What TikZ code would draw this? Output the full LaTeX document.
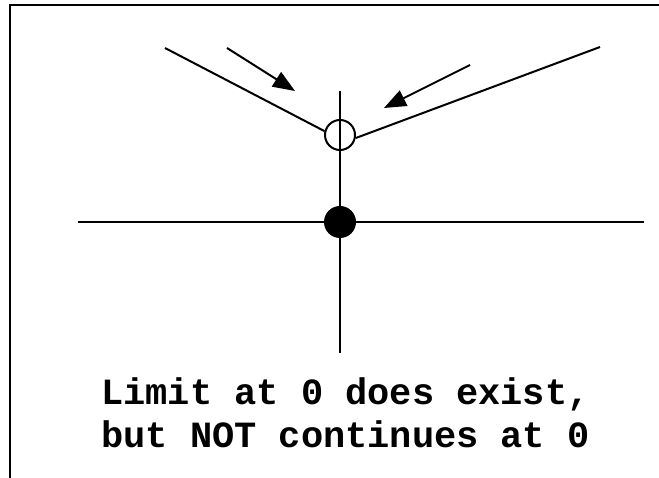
\documentclass[tikz,border=0pt]{standalone}
\usepackage{fontspec}
\setmonofont{Liberation Mono}
\usetikzlibrary{arrows.meta}
\begin{document}
\begin{tikzpicture}[x=1pt,y=-1pt,
  ln/.style={line width=2pt},
  arr/.style={line width=2pt,-{Triangle[length=22pt,width=17pt]}},
  opendot/.style={circle,draw,line width=2pt,minimum size=30pt,inner sep=0pt},
  filldot/.style={circle,fill=black,minimum size=32pt,inner sep=0pt},
  lbl/.style={anchor=base west,inner sep=0pt,font=\ttfamily\bfseries\fontsize{37}{42}\selectfont}]
\useasboundingbox (0,0) rectangle (659,478);
% frame (only top and left visible)
\coordinate (fbl) at (10,480);
\coordinate (ftl) at (10,5.2);
\coordinate (ftr) at (662,5.2);
\draw[line width=2.4pt] (fbl) -- (ftl) -- (ftr);
% axes
\coordinate (xl) at (78,222);
\coordinate (xr) at (644,222);
\coordinate (yt) at (340,91);
\coordinate (yb) at (340,353);
\draw[ln] (xl) -- (xr);
\draw[ln] (yt) -- (yb);
% points
\node[opendot] (open) at (340,135) {};
\node[filldot] (full) at (340,222) {};
% branches
\coordinate (bl) at (165,48);
\coordinate (br) at (600,47);
\draw[ln] (bl) -- (open.166);
\draw[ln] (br) -- (open.-11);
% arrows
\coordinate (a1s) at (227,48);
\coordinate (a1e) at (295,91);
\coordinate (a2s) at (470,65);
\coordinate (a2e) at (384,108);
\draw[arr] (a1s) -- (a1e);
\draw[arr] (a2s) -- (a2e);
% labels
\node[lbl] (t1) at (101,405) {Limit at 0 does exist,};
\node[lbl] (t2) at (101,447) {but NOT continues at 0};
\end{tikzpicture}
\end{document}
